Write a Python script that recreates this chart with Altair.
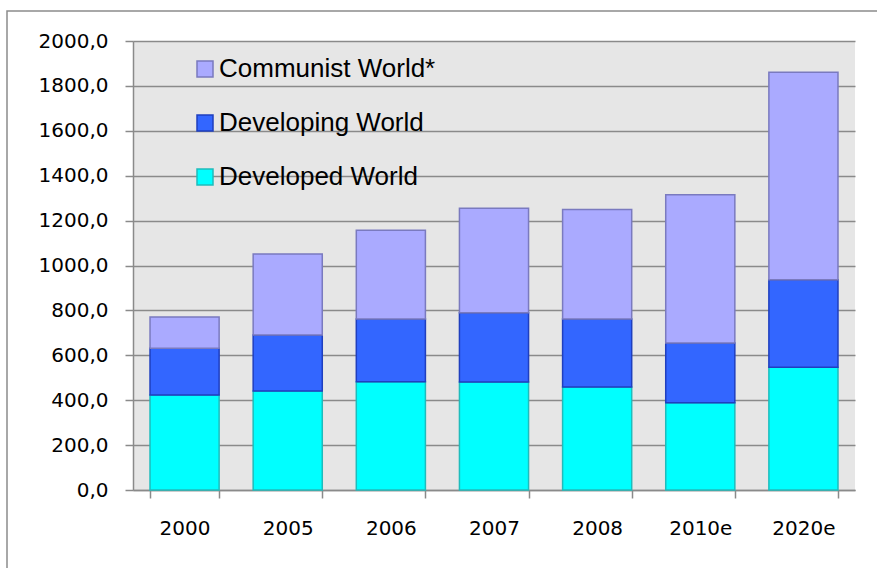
import altair as alt
import pandas as pd

years = ["2000", "2005", "2006", "2007", "2008", "2010e", "2020e"]
developed = [423, 441, 482, 481, 459, 389, 547]
developing = [208, 249, 280, 309, 303, 266, 390]
communist = [140, 361, 395, 465, 488, 660, 924]

series = ["Communist World*", "Developing World", "Developed World"]
fills = ["#aaaaff", "#3366ff", "#00ffff"]
strokes = ["#7a7abf", "#1f3fbf", "#1fbcbc"]
y_ticks = [0, 200, 400, 600, 800, 1000, 1200, 1400, 1600, 1800, 2000]

rank = {"Developed World": 0, "Developing World": 1, "Communist World*": 2}
rows = []
for i, yr in enumerate(years):
    for name, vals in (("Developed World", developed),
                       ("Developing World", developing),
                       ("Communist World*", communist)):
        rows.append({"year": yr, "series": name, "value": vals[i], "rank": rank[name]})
df = pd.DataFrame(rows)

legend_props = dict(
    title=None, orient="none", legendX=59, legendY=15,
    symbolType="square", symbolSize=256, symbolStrokeWidth=1.5,
    labelFont="Liberation Sans", labelFontSize=26, labelColor="black",
    labelOffset=1, labelLimit=600, rowPadding=28, padding=0,
)

bars = alt.Chart(df).mark_bar(strokeWidth=1.5).encode(
    x=alt.X("year:N", sort=years,
            scale=alt.Scale(paddingInner=0.33, paddingOuter=0.165),
            axis=alt.Axis(title=None, labelAngle=0, tickBand="extent",
                          labelPadding=20, grid=False)),
    y=alt.Y("value:Q", stack="zero",
            scale=alt.Scale(domain=[0, 2000], nice=False),
            axis=alt.Axis(title=None, values=y_ticks, grid=True,
                          labelExpr="replace(format(datum.value, '.1f'), '.', ',')",
                          labelPadding=17)),
    color=alt.Color("series:N", scale=alt.Scale(domain=series, range=fills),
                    legend=alt.Legend(**legend_props)),
    stroke=alt.Stroke("series:N", scale=alt.Scale(domain=series, range=strokes),
                      legend=alt.Legend(**legend_props)),
    order=alt.Order("rank:Q", sort="ascending"),
)

frame = alt.Chart(alt.Data(values=[{"k": 1}])).mark_rect(
    filled=False, stroke="#8c8c8c", strokeWidth=1.5
).encode(
    x=alt.value(-126), x2=alt.value(770),
    y=alt.value(-30), y2=alt.value(560),
)

chart = alt.layer(bars, frame).properties(
    width=722, height=449,
    autosize=alt.AutoSizeParams(type="none"),
    padding={"left": 133, "top": 41, "right": 22, "bottom": 78},
    background="white",
).configure_view(
    fill="#e6e6e6", strokeWidth=0
).configure_axis(
    domainColor="#8a8a8a", domainWidth=1.5,
    tickColor="#8a8a8a", tickWidth=1.5, tickSize=8,
    gridColor="#8a8a8a", gridWidth=1.5,
    labelFont="DejaVu Sans", labelFontSize=20, labelColor="black",
)

chart.save("out.html", embed_options={"renderer": "svg", "actions": False})
